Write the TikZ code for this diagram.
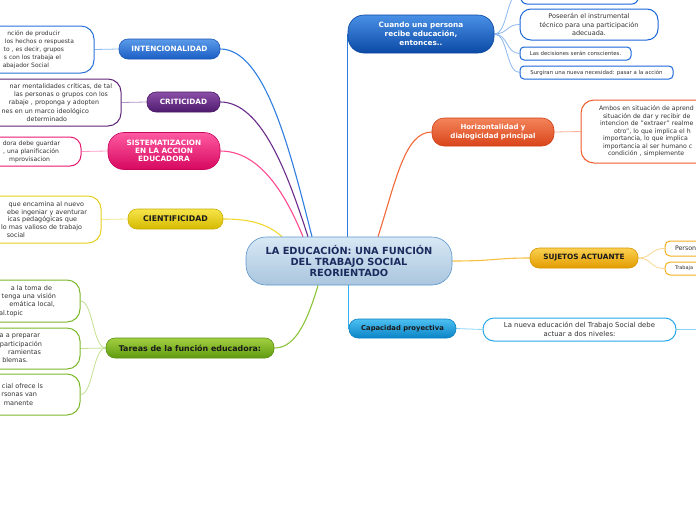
\documentclass[tikz,border=0pt]{standalone}
\usepackage{fontspec}
\setmainfont{DejaVu Sans}
\usetikzlibrary{backgrounds,calc}
\definecolor{cenT}{HTML}{D8E8F5}\definecolor{cenB}{HTML}{A9C5DD}\definecolor{cenD}{HTML}{5A96CC}\definecolor{cenText}{HTML}{1B2B5E}
\definecolor{intT}{HTML}{5B9BEA}\definecolor{intB}{HTML}{1B5EC4}\definecolor{intD}{HTML}{1A56B5}\definecolor{intL}{HTML}{2F7FE0}\definecolor{intBox}{HTML}{2A72DA}\definecolor{intS}{HTML}{8DBBF0}
\definecolor{criT}{HTML}{8B4FA8}\definecolor{criB}{HTML}{4E1B6E}\definecolor{criD}{HTML}{4A1A66}\definecolor{criL}{HTML}{6B2D8C}\definecolor{criBox}{HTML}{5E2579}\definecolor{criS}{HTML}{B595CC}
\definecolor{sisT}{HTML}{FF5AA2}\definecolor{sisB}{HTML}{D6085F}\definecolor{sisD}{HTML}{C8065A}\definecolor{sisL}{HTML}{FF4A90}\definecolor{sisBox}{HTML}{E8166F}\definecolor{sisS}{HTML}{FF9AC6}
\definecolor{cieT}{HTML}{F6E44A}\definecolor{cieB}{HTML}{D6BA00}\definecolor{cieD}{HTML}{C8AE00}\definecolor{cieL}{HTML}{F0D830}\definecolor{cieBox}{HTML}{E6CF1E}\definecolor{cieS}{HTML}{F4E88E}
\definecolor{tarT}{HTML}{A2D040}\definecolor{tarB}{HTML}{5F9A10}\definecolor{tarD}{HTML}{5A9010}\definecolor{tarL}{HTML}{8CC43A}\definecolor{tarBox}{HTML}{7CB82A}\definecolor{tarS}{HTML}{C2E092}
\definecolor{cuaT}{HTML}{4A90E6}\definecolor{cuaB}{HTML}{0B4AA6}\definecolor{cuaD}{HTML}{0A46A0}\definecolor{cuaL}{HTML}{2A7AE0}\definecolor{cuaBox}{HTML}{1B67D8}\definecolor{cuaS}{HTML}{8CB8F0}
\definecolor{horT}{HTML}{F4845A}\definecolor{horB}{HTML}{D9441A}\definecolor{horD}{HTML}{D03E14}\definecolor{horL}{HTML}{F26A3A}\definecolor{horBox}{HTML}{F05A28}\definecolor{horS}{HTML}{F8B098}
\definecolor{sujT}{HTML}{FAD050}\definecolor{sujB}{HTML}{E39C00}\definecolor{sujD}{HTML}{D89400}\definecolor{sujL}{HTML}{F8C040}\definecolor{sujBox}{HTML}{F2B020}\definecolor{sujS}{HTML}{F8D890}
\definecolor{capT}{HTML}{4DC0F2}\definecolor{capB}{HTML}{0A84C6}\definecolor{capD}{HTML}{0A80C0}\definecolor{capL}{HTML}{30B0F0}\definecolor{capBox}{HTML}{28A8E8}\definecolor{capS}{HTML}{8CD4F8}
\definecolor{boxtext}{HTML}{333333}\definecolor{darktext}{HTML}{1A1A1A}
\newcommand\topicfont{\fontsize{7.3}{8.6}\selectfont\bfseries}
\begin{document}
\begin{tikzpicture}[x=1pt,y=-1pt,
  topic/.style n args={3}{draw=#3, top color=#1, bottom color=#2, line width=0.6pt, inner sep=0pt, align=center},
  box/.style={draw=#1, fill=white, line width=1pt, inner sep=0pt, text=boxtext},
  link/.style={draw=#1, line width=1.1pt},
  sublink/.style={draw=#1, line width=0.8pt}]
\useasboundingbox (0,0) rectangle (696,520);

% central
\node[topic={cenT}{cenB}{cenD}, rounded corners=20pt, minimum width=206pt, minimum height=48pt, text=cenText, font=\fontsize{9.8}{11.3}\selectfont\bfseries] (cen) at (349,261) {LA EDUCACIÓN: UNA FUNCIÓN\\DEL TRABAJO SOCIAL\\REORIENTADO};

% left topics
\node[topic={intT}{intB}{intD}, rounded corners=9pt, minimum width=101pt, minimum height=20pt, text=white, font=\topicfont] (int) at (169.5,49) {INTENCIONALIDAD};
\node[topic={criT}{criB}{criD}, rounded corners=9pt, minimum width=73pt, minimum height=20pt, text=white, font=\topicfont] (cri) at (183.5,102) {CRITICIDAD};
\node[topic={sisT}{sisB}{sisD}, rounded corners=16pt, minimum width=112pt, minimum height=37pt, text=white, font=\fontsize{7.3}{8.3}\selectfont\bfseries] (sis) at (164,151) {SISTEMATIZACION\\EN LA ACCION\\EDUCADORA};
\node[topic={cieT}{cieB}{cieD}, rounded corners=9pt, minimum width=95pt, minimum height=20pt, text=darktext, font=\fontsize{7.8}{9}\selectfont\bfseries] (cie) at (175.5,219) {CIENTIFICIDAD};
\node[topic={tarT}{tarB}{tarD}, rounded corners=9pt, minimum width=168pt, minimum height=20pt, text=darktext, font=\fontsize{7.9}{9}\selectfont\bfseries] (tar) at (190,348) {Tareas de la función educadora:};

% left boxes
\node[box=intBox, rounded corners=13pt, minimum width=154pt, minimum height=47pt, text width=114pt, align=right, font=\fontsize{6}{8}\selectfont] (intbox) at (17,49.5) {nción de  producir\rule{14pt}{0pt}\\los hechos o respuesta\\to , es decir, grupos\rule{10pt}{0pt}\\s con los trabaja el\rule{13pt}{0pt}\\abajador Social\rule{25pt}{0pt}};
\node[box=criBox, rounded corners=13pt, minimum width=181pt, minimum height=47pt, text width=163pt, align=right, font=\fontsize{6.3}{8.2}\selectfont] (cribox) at (30.5,102.5) {nar mentalidades críticas, de tal\\las personas o grupos con los\rule{4pt}{0pt}\\rabaje , proponga y adopten\rule{13pt}{0pt}\\nes en un marco ideológico\rule{23pt}{0pt}\\determinado\rule{45pt}{0pt}};
\node[box=sisBox, rounded corners=11pt, minimum width=141pt, minimum height=29pt, text width=99pt, align=right, font=\fontsize{6.1}{8}\selectfont] (sisbox) at (10.5,151.5) {dora debe guardar\\, una planificación\rule{1pt}{0pt}\\mprovisacion\rule{10pt}{0pt}};
\node[box=cieBox, rounded corners=13pt, minimum width=161pt, minimum height=47pt, text width=133pt, align=right, font=\fontsize{6.4}{7.8}\selectfont] (ciebox) at (20.5,219.5) {que encamina al nuevo\rule{3pt}{0pt}\\ebe ingeniar y aventurar\\icas pedagógicas que\rule{10pt}{0pt}\\lo mas valioso de trabajo\rule{5pt}{0pt}\\social\rule{62pt}{0pt}};
\node[box=tarBox, rounded corners=13pt, minimum width=140pt, minimum height=42pt, text width=92pt, align=right, font=\fontsize{6.5}{8.4}\selectfont] (tb1) at (10,301) {a la toma de\rule{4pt}{0pt}\\tenga una visión\\emática local,\rule{1pt}{0pt}\\al.topic\rule{33pt}{0pt}};
\node[box=tarBox, rounded corners=13pt, minimum width=140pt, minimum height=41pt, text width=64pt, align=right, font=\fontsize{6.5}{8.4}\selectfont] (tb2) at (10,348.5) {a a preparar\rule{2pt}{0pt}\\participación\\ramientas\rule{1pt}{0pt}\\blemas.\rule{14pt}{0pt}};
\node[box=tarBox, rounded corners=13pt, minimum width=140pt, minimum height=41pt, text width=66pt, align=right, font=\fontsize{6.5}{8.6}\selectfont] (tb3) at (10,394.5) {cial ofrece ls\\rsonas van\rule{6pt}{0pt}\\manente\rule{10pt}{0pt}\\[3pt]};

% right topics
\node[topic={cuaT}{cuaB}{cuaD}, rounded corners=16pt, minimum width=146pt, minimum height=38pt, text=white, font=\fontsize{7.3}{9}\selectfont\bfseries] (cua) at (421,34) {Cuando una persona\\recibe educación,\\entonces..};
\node[topic={horT}{horB}{horD}, rounded corners=12pt, minimum width=122pt, minimum height=28pt, text=white, font=\fontsize{7}{8.6}\selectfont\bfseries] (hor) at (493,132) {Horizontalidad y\\dialogicidad principal};
\node[topic={sujT}{sujB}{sujD}, rounded corners=9pt, minimum width=108pt, minimum height=20pt, text=darktext, font=\topicfont] (suj) at (584,258) {SUJETOS ACTUANTE};
\node[topic={capT}{capB}{capD}, rounded corners=9pt, minimum width=107pt, minimum height=19pt, text=darktext, font=\fontsize{6.8}{8}\selectfont\bfseries] (cap) at (402.5,328.5) {Capacidad proyectiva};

% right boxes
\node[box=cuaBox, rounded corners=6pt, minimum width=117pt, minimum height=24pt] (cb1) at (579.5,-8) {};
\node[box=cuaBox, rounded corners=11pt, minimum width=138pt, minimum height=31pt, align=center, font=\fontsize{6.5}{8.3}\selectfont] (cb2) at (589,24.5) {Poseerán el instrumental\\técnico para una participación\\adecuada.};
\node[box=cuaBox, rounded corners=4pt, minimum width=111pt, minimum height=13pt, align=center, font=\fontsize{5.4}{6.5}\selectfont] (cb3) at (575.5,53.5) {Las decisiones serán conscientes.};
\node[box=cuaBox, rounded corners=4pt, minimum width=153pt, minimum height=13pt, align=center, font=\fontsize{5.4}{6.5}\selectfont] (cb4) at (596.5,72.5) {Surgiran una nueva necesidad: pasar a la acción};
\node[box=horBox, rounded corners=13pt, minimum width=179pt, minimum height=63pt, text width=143pt, align=left, font=\fontsize{6.2}{7.5}\selectfont] (hbox) at (670.5,131.5) {Ambos en situación de aprend\\\rule{4pt}{0pt}situación de dar y recibir de\\\rule{1pt}{0pt}intencion de "extraer" realme\\\rule{15pt}{0pt}otro", lo que implica el h\\\rule{4pt}{0pt}importancia, lo que implica\\\rule{4pt}{0pt}importancia al ser humano c\\\rule{9pt}{0pt}condición , simplemente};
\node[box=sujBox, rounded corners=5pt, minimum width=95pt, minimum height=15pt, text width=75pt, align=left, font=\fontsize{6.3}{7}\selectfont] (sb1) at (712.5,248.5) {Person};
\node[box=sujBox, rounded corners=5pt, minimum width=95pt, minimum height=13pt, text width=75pt, align=left, font=\fontsize{5}{6}\selectfont] (sb2) at (712.5,268.5) {Trabaja};
\node[box=capBox, rounded corners=11pt, minimum width=193pt, minimum height=23pt, align=center, font=\fontsize{6.9}{9.3}\selectfont] (capbox) at (579.5,329.5) {La nueva educación del Trabajo Social debe\\actuar a dos niveles:};
\coordinate (capend) at (700,329.5);

\begin{scope}[on background layer]
\fill[white] (0,0) rectangle (696,520);
% main links
\draw[link=intL] ($(cen.north)+(-37,0)$) .. controls (290,150) and (265,49) .. (int.east);
\draw[link=criL] ($(cen.north)+(-41,0)$) .. controls (288,175) and (262,102) .. (cri.east);
\draw[link=sisL] ($(cen.north)+(-46,0)$) .. controls (284,190) and (258,151) .. (sis.east);
\draw[link=cieL] ($(cen.north)+(-67,0)$) .. controls (266,222) and (245,219) .. (cie.east);
\draw[link=tarL] ($(cen.south)+(-31,0)$) .. controls (305,330) and (292,348) .. (tar.east);
\draw[link=cuaL] (cen.north -| cua.west) -- (cua.west);
\draw[link=horL] ($(cen.north)+(29,0)$) .. controls (396,180) and (405,132) .. (hor.west);
\draw[link=sujL] (cen.east) .. controls (495,261) and (495,258) .. (suj.west);
\draw[link=capL] (cen.south -| cap.west) -- (cap.west);
% sub links
\draw[sublink=intS] (int.west) -- (intbox.east);
\draw[sublink=criS] (cri.west) -- (cribox.east);
\draw[sublink=sisS] (sis.west) -- (sisbox.east);
\draw[sublink=cieS] (cie.west) -- (ciebox.east);
\draw[sublink=tarS] (tar.west) .. controls (93,348) and (93,301) .. (tb1.east);
\draw[sublink=tarS] (tar.west) -- (tb2.east);
\draw[sublink=tarS] (tar.west) .. controls (93,348) and (93,394.5) .. (tb3.east);
\draw[sublink=cuaS] (cua.east) .. controls (508,34) and (506,-8) .. (cb1.west);
\draw[sublink=cuaS] (cua.east) .. controls (508,34) and (506,24.5) .. (cb2.west);
\draw[sublink=cuaS] (cua.east) .. controls (508,34) and (506,53.5) .. (cb3.west);
\draw[sublink=cuaS] (cua.east) .. controls (508,34) and (506,72.5) .. (cb4.west);
\draw[sublink=horS] (hor.east) -- (hbox.west);
\draw[sublink=sujS] (suj.east) .. controls (652,258) and (650,248.5) .. (sb1.west);
\draw[sublink=sujS] (suj.east) .. controls (652,258) and (650,268.5) .. (sb2.west);
\draw[sublink=capS] (cap.east) -- (capbox.west);
\draw[sublink=capS] (capbox.east) -- (capend);
\end{scope}
\end{tikzpicture}
\end{document}
